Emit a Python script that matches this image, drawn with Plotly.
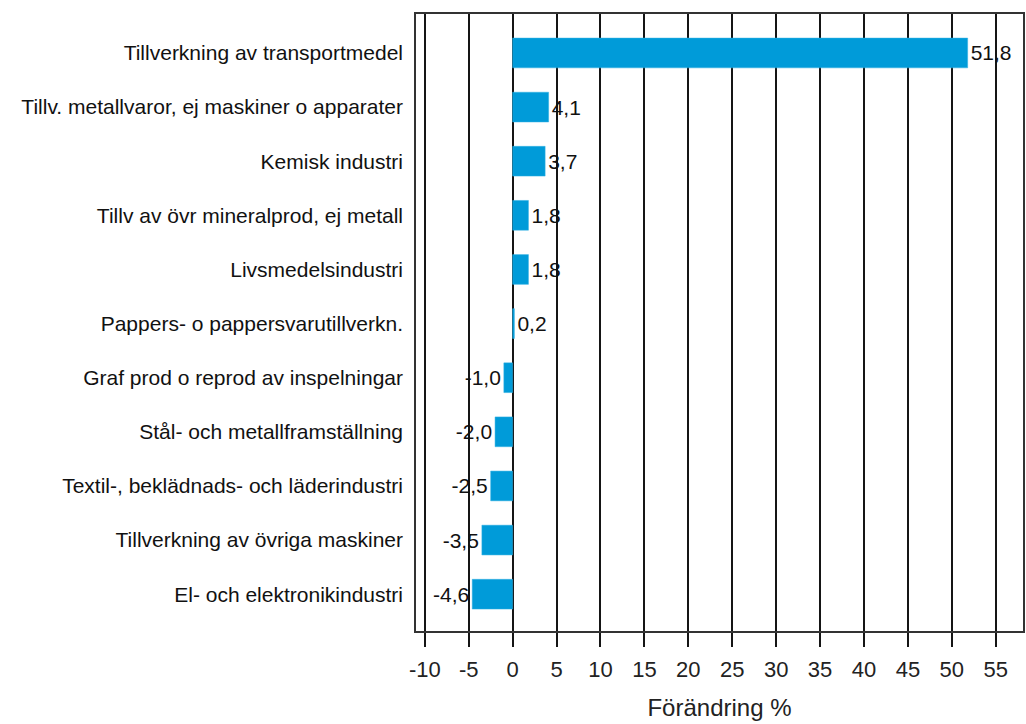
import plotly.graph_objects as go

categories = [
    "Tillverkning av transportmedel",
    "Tillv. metallvaror, ej maskiner o apparater",
    "Kemisk industri",
    "Tillv av övr mineralprod, ej metall",
    "Livsmedelsindustri",
    "Pappers- o pappersvarutillverkn.",
    "Graf prod o reprod av inspelningar",
    "Stål- och metallframställning",
    "Textil-, beklädnads- och läderindustri",
    "Tillverkning av övriga maskiner",
    "El- och elektronikindustri",
]
values = [51.8, 4.1, 3.7, 1.8, 1.8, 0.2, -1.0, -2.0, -2.5, -3.5, -4.6]
tick_vals = [-10, -5, 0, 5, 10, 15, 20, 25, 30, 35, 40, 45, 50, 55]

labels = [f"{v:.1f}".replace(".", ",") for v in values]

FONT = "Liberation Sans, Arial, sans-serif"

fig = go.Figure(go.Bar(
    x=values,
    y=categories,
    orientation="h",
    marker=dict(color="#009bd9", line=dict(color="#33b0e3", width=0.5)),
    text=labels,
    textposition="outside",
    textfont=dict(family=FONT, size=21, color="#111"),
    cliponaxis=False,
    width=0.55,
    hoverinfo="skip",
))

fig.update_layout(
    width=1026, height=724,
    margin=dict(l=416, r=3, t=14, b=93),
    paper_bgcolor="white", plot_bgcolor="white",
    font=dict(family=FONT, size=21, color="#111"),
    showlegend=False,
    xaxis=dict(
        automargin=False,
        range=[-11, 58.1],
        tickvals=tick_vals,
        ticktext=[str(t) for t in tick_vals],
        showgrid=True, gridcolor="#151515", gridwidth=1.6,
        zeroline=False,
        ticks="outside", ticklen=14, tickcolor="#151515", tickwidth=1.6,
        ticklabelstandoff=4,
        tickfont=dict(size=22, color="#222"),
        showline=True, linecolor="#333", linewidth=1.6, mirror=True,
        title=dict(text="Förändring %", font=dict(size=24, color="#222"), standoff=18),
    ),
    yaxis=dict(
        automargin=False,
        categoryorder="array", categoryarray=categories,
        range=[10.68, -0.72],
        showgrid=False, zeroline=False,
        ticks="", ticklabelstandoff=7,
        tickfont=dict(size=21, color="#111"),
        showline=True, linecolor="#333", linewidth=1.6, mirror=True,
    ),
)

fig.write_html(
    "out.html",
    config={"displayModeBar": False},
    post_script="document.body.style.margin='0';document.body.style.overflow='hidden';",
)
